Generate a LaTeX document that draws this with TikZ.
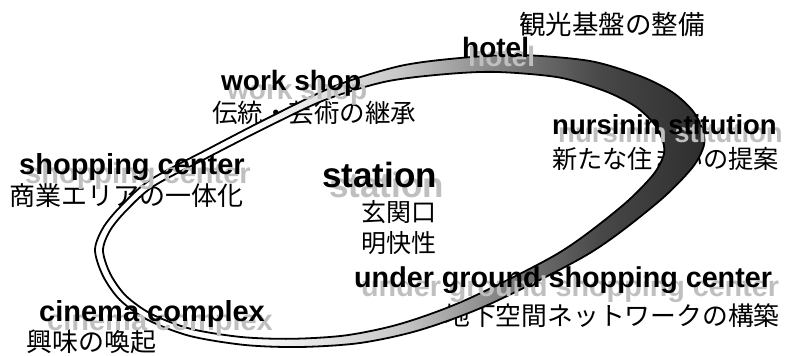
\documentclass[tikz,border=0pt]{standalone}
\usepackage{fontspec}
\setmainfont{Liberation Sans}
\newfontfamily\jpfont{Noto Sans CJK JP}
\pgfdeclarehorizontalshading{ringshade}{100bp}{color(0bp)=(white); color(37bp)=(white); color(50bp)=(black!22); color(55.5bp)=(black!40); color(60.5bp)=(black!56); color(66.5bp)=(black!72); color(75bp)=(black!82); color(100bp)=(black!82)}
\tikzset{
  en/.style={font=\fontsize{#1}{#1}\selectfont\bfseries, inner sep=0pt, anchor=base west},
  jp/.style={font=\fontsize{#1}{#1}\selectfont\jpfont, inner sep=0pt, anchor=base west},
  shadowtxt/.style={text=black!25},
  ring/.style={even odd rule, shading=ringshade, draw=black, line width=1.8pt}
}
\begin{document}
\begin{tikzpicture}[x=1pt,y=1pt]
\useasboundingbox (0,0) rectangle (790,356);
\fill[white] (0,0) rectangle (790,356);
% Japanese labels (under the ring)
\node[jp=26.5] (kanko) at (519,321.7) {観光基盤の整備};
\node[jp=25.5] (dento) at (212,233.6) {伝統・芸術の継承};
\node[jp=25.2] (sumai) at (552,187.7) {新たな住まいの提案};
\node[jp=26] (shogyo) at (9,150.4) {商業エリアの一体化};
\node[jp=25] (genkan) at (361,134.75) {玄関口};
\node[jp=25] (meikai) at (361,103.75) {明快性};
\node[jp=25.8] (chika) at (444,30.5) {地下空間ネットワークの構築};
\node[jp=26] (kyomi) at (26,4.4) {興味の喚起};
% ring
\shadedraw[ring]
  plot[smooth cycle] coordinates {(95,106) (103,80) (120,56) (148,36) (190,20) (245,11) (300,9) (360,13) (420,26) (490,52) (590,103) (657,153) (692,188) (704,211) (702,228) (692,246) (672,264) (640,280) (590,295) (520,301) (460,298) (400,290) (335,270) (270,239) (210,208) (150,176) (120,149) (103,128)}
  plot[smooth cycle] coordinates {(103.0,105.8) (110.3,82.1) (126.0,60.1) (151.8,41.8) (190.5,27.2) (241.1,19.0) (291.8,17.2) (347.0,20.8) (402.3,32.7) (466.8,56.5) (558.9,103.1) (620.6,148.8) (652.8,180.8) (663.9,201.8) (662.1,217.3) (652.8,233.8) (634.4,250.2) (604.9,264.9) (558.9,278.6) (494.4,284.1) (439.1,281.3) (383.9,274.0) (324.0,255.7) (264.2,227.4) (208.9,199.1) (153.6,169.8) (126.0,145.1) (110.3,125.9)};
% English shadows
\node[en=28, shadowtxt] (hotelS) at (468,289) {hotel};
\node[en=28, shadowtxt] (workS) at (227,256) {work shop};
\node[en=27.5, shadowtxt] (nursS) at (558,213) {nursinin stitution};
\node[en=29, shadowtxt] (shopS) at (25,172) {shopping center};
\node[en=35, shadowtxt] (stationS) at (329,158) {station};
\node[en=28.7, shadowtxt] (underS) at (361,59) {under ground shopping center};
\node[en=29, shadowtxt] (cinemaS) at (47,25) {cinema complex};
% English labels
\node[en=28] (hotel) at (462,298) {hotel};
\node[en=28] (work) at (221,265) {work shop};
\node[en=27.5] (nurs) at (552,221) {nursinin stitution};
\node[en=29] (shop) at (19,181) {shopping center};
\node[en=35] (station) at (322,168) {station};
\node[en=28.7] (under) at (354,68) {under ground shopping center};
\node[en=29] (cinema) at (39,34) {cinema complex};
\end{tikzpicture}
\end{document}
